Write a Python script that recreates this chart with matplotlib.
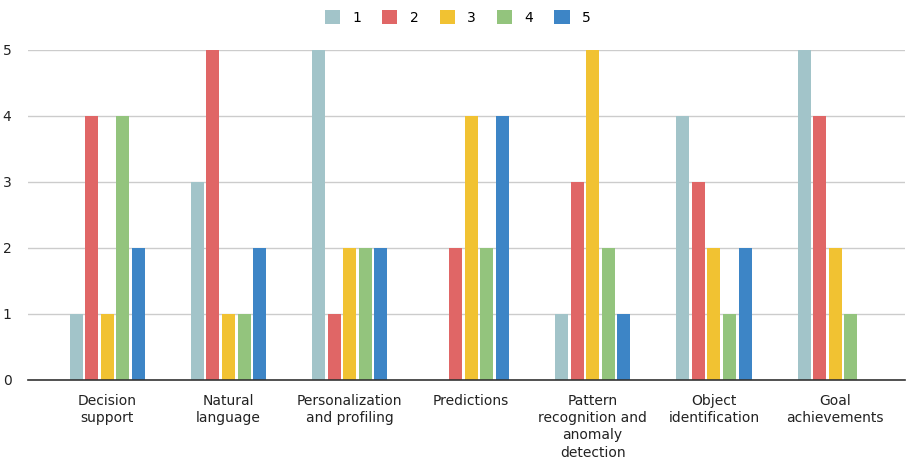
import numpy as np
import matplotlib.pyplot as plt

categorias = ["Decision\nsupport", "Natural\nlanguage", "Personalization\nand profiling",
              "Predictions", "Pattern\nrecognition and\nanomaly\ndetection",
              "Object\nidentification", "Goal\nachievements"]
series = ["1", "2", "3", "4", "5"]
valores_1 = [1, 3, 5, 0, 1, 4, 5]
valores_2 = [4, 5, 1, 2, 3, 3, 4]
valores_3 = [1, 1, 2, 4, 5, 2, 2]
valores_4 = [4, 1, 2, 2, 2, 1, 1]
valores_5 = [2, 2, 2, 4, 1, 2, 0]
colores = ["#a2c4c9", "#e06666", "#f1c232", "#93c47d", "#3d85c6"]

datos = [valores_1, valores_2, valores_3, valores_4, valores_5]

fig = plt.figure(figsize=(9.1, 4.61), dpi=100)
ax = fig.add_axes([0.031, 0.176, 0.963, 0.716])

x = np.arange(len(categorias))
paso = 0.128
ancho = 0.107
for i, (serie, vals) in enumerate(zip(series, datos)):
    ax.bar(x + (i - 2) * paso, vals, width=ancho, color=colores[i], label=serie, zorder=3)

ax.set_xlim(-0.65, 6.57)
ax.set_ylim(0, 5)
ax.set_yticks(range(6))
ax.set_xticks(x)
ax.set_xticklabels(categorias, fontsize=10, color="#222222", linespacing=1.3)
ax.tick_params(axis="both", length=0, labelsize=10, colors="#222222")
ax.tick_params(axis="x", pad=10)
ax.tick_params(axis="y", pad=12)
ax.grid(True, axis="y", color="#cccccc", linewidth=1, zorder=0)
for lado in ["top", "right", "left"]:
    ax.spines[lado].set_visible(False)
ax.spines["bottom"].set_color("#333333")
ax.spines["bottom"].set_linewidth(1.2)
ax.spines["bottom"].set_zorder(4)

fig.legend(loc="upper center", bbox_to_anchor=(0.503, 1.005), ncol=5, frameon=False,
           fontsize=10, handlelength=1.1, handleheight=1.1, columnspacing=1.5, handletextpad=0.9)

plt.savefig("out.png", dpi=100)
